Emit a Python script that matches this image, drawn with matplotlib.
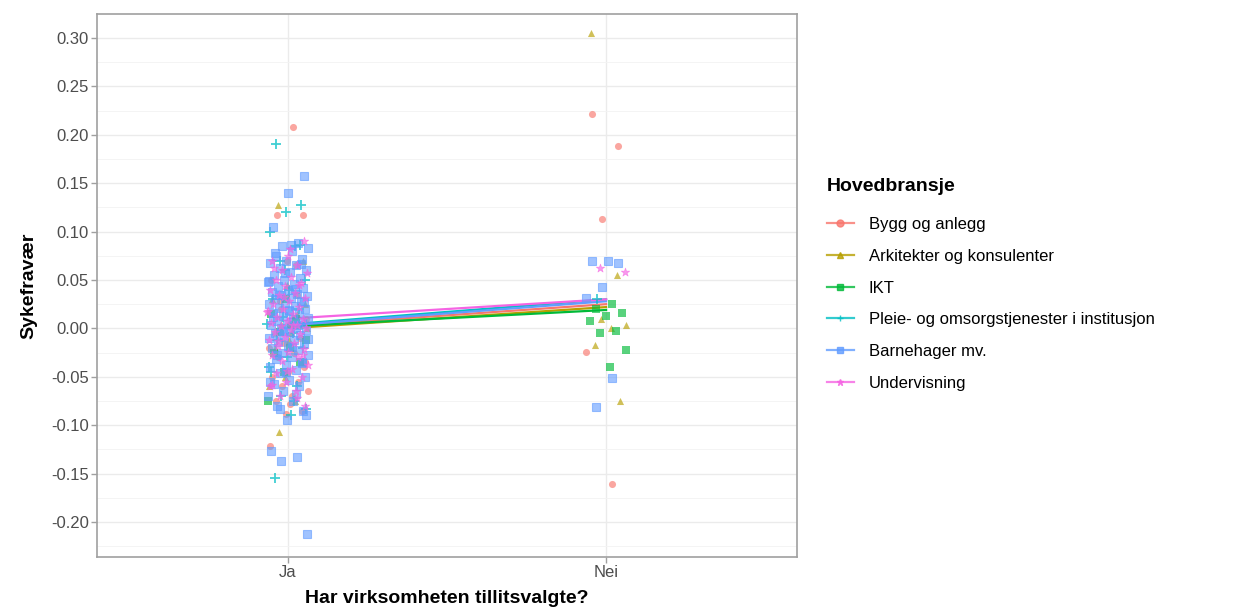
import numpy as np
import matplotlib
matplotlib.use("Agg")
import matplotlib.pyplot as plt
from matplotlib.lines import Line2D

plt.rcParams['font.family'] = ['Liberation Sans', 'DejaVu Sans']

categories = ["Bygg og anlegg", "Arkitekter og konsulenter", "IKT",
              "Pleie- og omsorgstjenester i institusjon", "Barnehager mv.", "Undervisning"]
groups = ["Ja", "Nei"]
colors = ["#F8766D", "#B79F00", "#00BA38", "#00BFC4", "#619CFF", "#F564E3"]

# observed values, group "Ja"
ja_bygg = [0.208, 0.117, 0.117, 0.07, 0.05, 0.035, 0.02, 0.01, 0.005, -0.005, -0.01, -0.015,
           -0.02, -0.025, -0.03, -0.04, -0.045, -0.05, -0.055, -0.06, -0.065, -0.07, -0.075,
           -0.085, -0.088, -0.122, 0.065, 0.028, -0.035, -0.078]
ja_ark = [0.127, 0.07, 0.045, 0.03, 0.015, 0.005, 0.0, -0.005, -0.02, -0.035, -0.05, -0.06,
          -0.075, -0.107, 0.025, -0.012]
ja_ikt = [0.03, 0.015, 0.01, -0.004, -0.012, -0.02, -0.025, -0.035, -0.045, -0.075]
ja_pleie = [0.19, 0.127, 0.12, 0.10, 0.085, 0.07, 0.05, 0.04, 0.03, 0.02, 0.012, 0.005,
            -0.005, -0.012, -0.02, -0.03, -0.045, -0.06, -0.07, -0.083, -0.09, -0.155,
            0.086, 0.06, -0.04, -0.075]
ja_barn = [0.157, 0.140, 0.105, 0.088, 0.085, 0.083, 0.080, 0.075, 0.072, 0.070, 0.068, 0.065,
           0.062, 0.060, 0.058, 0.055, 0.052, 0.050, 0.048, 0.046, 0.044, 0.042, 0.040, 0.038,
           0.036, 0.035, 0.033, 0.031, 0.030, 0.028, 0.026, 0.025, 0.023, 0.021, 0.020, 0.018,
           0.016, 0.015, 0.013, 0.011, 0.010, 0.008, 0.006, 0.005, 0.003, 0.001, 0.000, -0.002,
           -0.004, -0.005, -0.007, -0.009, -0.010, -0.012, -0.014, -0.016, -0.018, -0.020,
           -0.022, -0.025, -0.027, -0.030, -0.032, -0.035, -0.038, -0.040, -0.043, -0.046,
           -0.050, -0.053, -0.057, -0.060, -0.065, -0.070, -0.075, -0.080, -0.085, -0.095,
           -0.127, -0.133, -0.137, -0.212,
           0.086, 0.078, 0.066, 0.057, 0.049, 0.041, 0.034, 0.027, 0.019, 0.012, 0.004,
           -0.003, -0.011, -0.019, -0.028, -0.036, -0.045, -0.055, -0.068, -0.083, -0.090]
ja_underv = [0.09, 0.075, 0.07, 0.065, 0.06, 0.057, 0.053, 0.05, 0.047, 0.044, 0.04, 0.037,
             0.034, 0.031, 0.028, 0.025, 0.022, 0.02, 0.017, 0.015, 0.012, 0.01, 0.008, 0.006,
             0.004, 0.002, 0.0, -0.002, -0.004, -0.006, -0.009, -0.012, -0.015, -0.018, -0.021,
             -0.024, -0.027, -0.03, -0.034, -0.038, -0.042, -0.046, -0.05, -0.055, -0.06,
             -0.065, -0.07, -0.08, 0.082, 0.062, 0.045, 0.032, 0.018, 0.003, -0.013, -0.028,
             -0.044, -0.058, -0.072]

# observed values, group "Nei"
nei_bygg = [0.221, 0.188, 0.113, -0.024, -0.161]
nei_ark = [0.305, 0.055, 0.01, 0.003, 0.0, -0.017, -0.075]
nei_ikt = [0.025, 0.02, 0.016, 0.013, 0.008, -0.003, -0.005, -0.022, -0.04]
nei_pleie = [0.03]
nei_barn = [0.07, 0.07, 0.068, 0.043, 0.031, -0.051, -0.081]
nei_underv = [0.062, 0.058]

# group means (lines)
mean_ja = [0.002, 0.000, 0.002, 0.004, 0.003, 0.010]
mean_nei = [0.025, 0.022, 0.019, 0.030, 0.028, 0.030]

ja_data = [ja_bygg, ja_ark, ja_ikt, ja_pleie, ja_barn, ja_underv]
nei_data = [nei_bygg, nei_ark, nei_ikt, nei_pleie, nei_barn, nei_underv]
markers = ["o", "^", "s", "+", "s", "*"]

fig = plt.figure(figsize=(12.42, 6.16), dpi=100)
ax = fig.add_axes([97/1242, 59/616, 700/1242, 543/616])

xpos = {"Ja": 1, "Nei": 2}

# lines of means
for i, c in enumerate(categories):
    ax.plot([1, 2], [mean_ja[i], mean_nei[i]], color=colors[i], lw=1.6, zorder=2)

# jittered points (deterministic jitter)
k = 0
for i, c in enumerate(categories):
    for grp, data in (("Ja", ja_data[i]), ("Nei", nei_data[i])):
        xs = []
        for _ in data:
            k += 1
            xs.append(xpos[grp] + ((k * 0.6180339887) % 1 - 0.5) * 0.13)
        ys = data
        if i == 3:
            ax.scatter(xs, ys, marker="+", s=60, color=colors[i], alpha=0.75, lw=1.3, zorder=3)
        elif i == 4:
            ax.scatter(xs, ys, marker="s", s=30, facecolor=colors[i], edgecolor=colors[i],
                       alpha=0.6, lw=0.8, zorder=3)
        elif i == 5:
            ax.scatter(xs, ys, marker="*", s=40, color=colors[i], alpha=0.65, lw=0.5, zorder=3)
        else:
            ax.scatter(xs, ys, marker=markers[i], s=26, color=colors[i], alpha=0.65,
                       lw=0, zorder=3)

ax.set_xlim(0.4, 2.6)
ax.set_ylim(-0.2362, 0.3248)
yt = [-0.20, -0.15, -0.10, -0.05, 0.00, 0.05, 0.10, 0.15, 0.20, 0.25, 0.30]
ax.set_yticks(yt)
ax.set_yticklabels([f"{v:.2f}" for v in yt])
ax.set_yticks([v + 0.025 for v in yt[:-1]] + [-0.225], minor=True)
ax.set_xticks([1, 2])
ax.set_xticklabels(groups)
ax.grid(True, which="major", color="#EBEBEB", lw=1.0, zorder=0)
ax.grid(True, which="minor", axis="y", color="#F3F3F3", lw=0.6, zorder=0)
ax.set_axisbelow(True)
for s in ax.spines.values():
    s.set_color("#A0A0A0")
    s.set_linewidth(1.2)
ax.tick_params(axis="both", which="major", colors="#A0A0A0", length=4, width=1,
               labelcolor="#4D4D4D", labelsize=12, pad=2)
ax.tick_params(axis="both", which="minor", length=0)
ax.set_xlabel("Har virksomheten tillitsvalgte?", fontsize=14, fontweight="bold", labelpad=7)
ax.set_ylabel("Sykefravær", fontsize=14, fontweight="bold", labelpad=10)

handles = []
for i, c in enumerate(categories):
    handles.append(Line2D([0], [0], color=colors[i], lw=1.6, marker=markers[i],
                          markersize=5, alpha=0.8))
leg = fig.legend(handles, categories, loc="upper left",
                 bbox_to_anchor=(812/1242, 1 - 163/616),
                 frameon=False, title="Hovedbransje", fontsize=12, handlelength=1.6,
                 labelspacing=1.0, handletextpad=0.9,
                 title_fontproperties={"weight": "bold", "size": 14})
leg._legend_box.align = "left"
leg._legend_box.sep = 16

fig.savefig("out.png", dpi=100)
